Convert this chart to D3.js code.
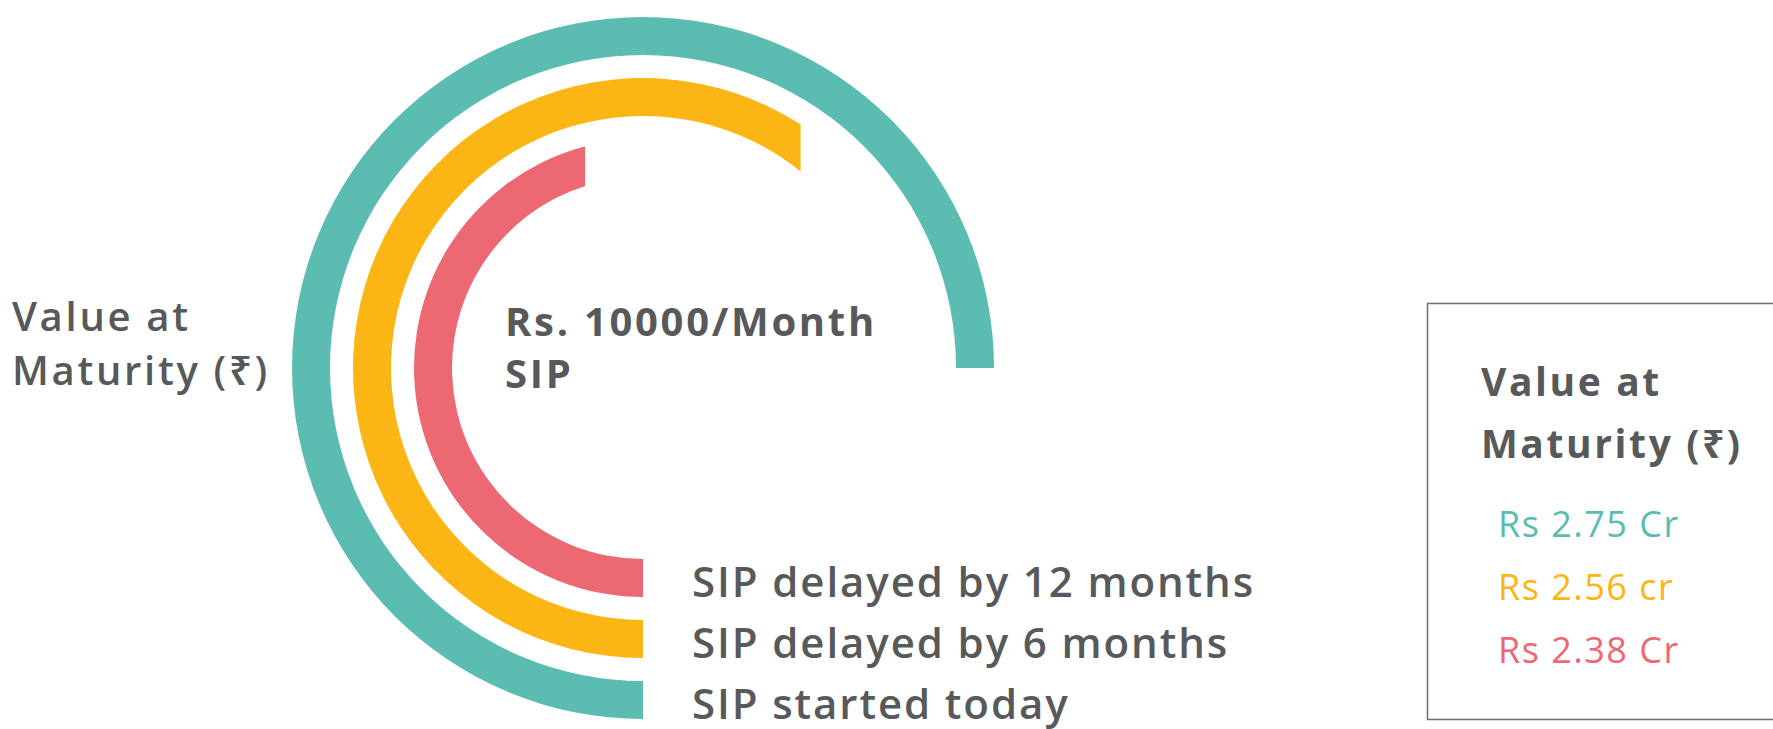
<!DOCTYPE html>
<html>
<head>
<meta charset="utf-8">
<script src="https://cdn.jsdelivr.net/npm/d3@7"></script>
<style>
  body { margin: 0; background: #ffffff; }
  text { font-family: "Open Sans", "Noto Sans", sans-serif; }
</style>
</head>
<body>
<script>
'use strict';
(function() {

  // chart data, outer ring first
  const seriesNames = ["SIP started today", "SIP delayed by 6 months", "SIP delayed by 12 months"];
  const maturityValues = [2.75, 2.56, 2.38]; // Rs crore
  const valueLabels = ["Rs 2.75 Cr", "Rs 2.56 cr", "Rs 2.38 Cr"];
  const seriesColors = ["#5bbdb2", "#fbb615", "#ec6873"];
  const centerTitle = ["Rs. 10000/Month", "SIP"];
  const sideTitle = ["Value at", "Maturity (\u20B9)"];

  let svg = "";
  const textColor = "#58595b";

  window.onload = function() {
    svg = d3.select('body')
      .append('svg')
      .attr('width', 1773)
      .attr('height', 729);

    drawRings();
    drawLabels();
    drawValueBox();
  }

  // the three concentric arcs, all starting at six o'clock
  function drawRings() {
    let cx = 643, cy = 368;

    // ring radius per series
    let rScale = d3.scaleBand()
      .domain(seriesNames)
      .range([351, 191])
      .paddingInner(0.377);

    // sweep (degrees) per maturity value
    let sweepScale = d3.scaleLinear()
      .domain([2.38, 2.75])
      .range([164, 270]);

    let rows = seriesNames.map((name, i) => {
      let end = -Math.PI + sweepScale(maturityValues[i]) * Math.PI / 180;
      let inner = rScale(name);
      let outer = inner + rScale.bandwidth();
      // ends in the top half get a vertical cut instead of a radial one
      let vcut = end > -Math.PI / 2 && end < Math.PI / 2;
      return {
        name: name, color: seriesColors[i], end: end, inner: inner, outer: outer,
        vcut: vcut, xEnd: Math.sin(end) * (inner + outer) / 2
      };
    });

    let arc = d3.arc()
      .innerRadius((d) => d.inner)
      .outerRadius((d) => d.outer)
      .startAngle(-Math.PI)
      .endAngle((d) => d.vcut ? d.end + 0.2 : d.end);

    let g = svg.append('g')
      .attr('transform', 'translate(' + cx + ',' + cy + ')');

    // clip paths for the vertical cuts
    let defs = svg.append('defs');
    rows.forEach((d, i) => {
      if (!d.vcut) return;
      let cp = defs.append('clipPath').attr('id', 'cut' + i);
      cp.append('rect').attr('x', -400).attr('y', -400).attr('width', d.xEnd + 400).attr('height', 400);
      cp.append('rect').attr('x', -400).attr('y', 0).attr('width', 800).attr('height', 400);
    });

    g.selectAll('.ring')
      .data(rows)
      .enter()
      .append('path')
        .attr('class', 'ring')
        .attr('d', arc)
        .attr('clip-path', (d, i) => d.vcut ? 'url(#cut' + i + ')' : null)
        .attr('fill', (d) => d.color);

    // series labels next to the ring ends
    g.selectAll('.ring-label')
      .data(rows)
      .enter()
      .append('text')
        .attr('class', 'ring-label')
        .attr('x', 49)
        .attr('y', (d) => (d.inner + d.outer) / 2 + 19)
        .style('font-size', '42px')
        .style('font-weight', 600)
        .style('letter-spacing', '1.9px')
        .attr('fill', textColor)
        .text((d) => d.name);
  }

  // left hand title and the text inside the rings
  function drawLabels() {
    svg.append('g').selectAll('text')
      .data(sideTitle)
      .enter()
      .append('text')
        .attr('x', 12)
        .attr('y', (d, i) => 331 + i * 54)
        .style('font-size', '40px')
        .style('font-weight', 600)
        .style('letter-spacing', '2.7px')
        .attr('fill', textColor)
        .text((d) => d);

    svg.append('g').selectAll('text')
      .data(centerTitle)
      .enter()
      .append('text')
        .attr('x', 505)
        .attr('y', (d, i) => 336 + i * 52)
        .style('font-size', '40px')
        .style('font-weight', 700)
        .style('letter-spacing', '2.7px')
        .attr('fill', textColor)
        .text((d) => d);
  }

  // framed box on the right with the maturity values
  function drawValueBox() {
    svg.append('rect')
      .attr('x', 1427.5)
      .attr('y', 303.5)
      .attr('width', 400)
      .attr('height', 416)
      .attr('fill', 'none')
      .attr('stroke', '#6d6e70')
      .attr('stroke-width', 1.5);

    svg.append('g').selectAll('text')
      .data(sideTitle)
      .enter()
      .append('text')
        .attr('x', 1481)
        .attr('y', (d, i) => 396 + i * 62)
        .style('font-size', '39px')
        .style('font-weight', 700)
        .style('letter-spacing', '2.6px')
        .attr('fill', textColor)
        .text((d) => d);

    svg.append('g').selectAll('text')
      .data(valueLabels)
      .enter()
      .append('text')
        .attr('x', 1498)
        .attr('y', (d, i) => 537 + i * 63)
        .style('font-size', '36px')
        .style('letter-spacing', '1.5px')
        .attr('fill', (d, i) => seriesColors[i])
        .text((d) => d);
  }

})();
</script>
</body>
</html>
